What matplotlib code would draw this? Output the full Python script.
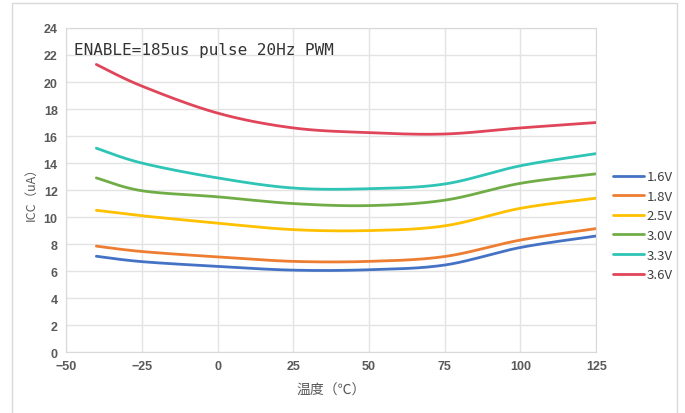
import numpy as np
import matplotlib.pyplot as plt
from matplotlib.patches import Rectangle

plt.rcParams['font.family'] = ['Noto Sans CJK SC', 'DejaVu Sans']

temps = [-40, -25, 0, 25, 50, 75, 100, 125]
icc_1v6 = [7.1, 6.7, 6.35, 6.07, 6.1, 6.45, 7.75, 8.6]
icc_1v8 = [7.85, 7.45, 7.05, 6.72, 6.72, 7.08, 8.3, 9.15]
icc_2v5 = [10.5, 10.1, 9.55, 9.07, 9.0, 9.35, 10.65, 11.4]
icc_3v0 = [12.9, 11.95, 11.5, 11.0, 10.85, 11.25, 12.5, 13.2]
icc_3v3 = [15.1, 14.0, 12.9, 12.15, 12.1, 12.45, 13.8, 14.7]
icc_3v6 = [21.3, 19.7, 17.7, 16.6, 16.25, 16.15, 16.6, 17.0]

series = [("1.6V", icc_1v6, "#4472C4"),
          ("1.8V", icc_1v8, "#ED7D31"),
          ("2.5V", icc_2v5, "#FFC000"),
          ("3.0V", icc_3v0, "#70AD47"),
          ("3.3V", icc_3v3, "#2EC4B6"),
          ("3.6V", icc_3v6, "#E0455A")]


def smooth(x, y, n=40):
    # Catmull-Rom style bezier through each point, like spreadsheet "smoothed line"
    x = np.asarray(x, float)
    y = np.asarray(y, float)
    px = np.concatenate([[x[0]], x, [x[-1]]])
    py = np.concatenate([[y[0]], y, [y[-1]]])
    xs, ys = [], []
    t = np.linspace(0, 1, n)
    for i in range(1, len(px) - 2):
        p0 = np.array([px[i], py[i]])
        p3 = np.array([px[i + 1], py[i + 1]])
        p1 = p0 + (np.array([px[i + 1], py[i + 1]]) - np.array([px[i - 1], py[i - 1]])) / 6
        p2 = p3 - (np.array([px[i + 2], py[i + 2]]) - np.array([px[i], py[i]])) / 6
        b = ((1 - t) ** 3)[:, None] * p0 + (3 * (1 - t) ** 2 * t)[:, None] * p1 \
            + (3 * (1 - t) * t ** 2)[:, None] * p2 + (t ** 3)[:, None] * p3
        xs.extend(b[:, 0])
        ys.extend(b[:, 1])
    return xs, ys


fig = plt.figure(figsize=(6.85, 4.14), dpi=100)
ax = fig.add_axes([0.0964, 0.147, 0.774, 0.783])

for label, vals, color in series:
    sx, sy = smooth(temps, vals)
    ax.plot(sx, sy, color=color, lw=2, label=label, solid_capstyle='round')

ax.set_xlim(-50, 125)
ax.set_ylim(0, 24)
ax.set_xticks([-50, -25, 0, 25, 50, 75, 100, 125])
ax.set_yticks(range(0, 25, 2))
ax.grid(True, color='#E3E3E3', lw=1)
ax.set_axisbelow(True)
for s in ax.spines.values():
    s.set_color('#D9D9D9')
ax.tick_params(length=0, labelsize=9, colors='#505050', pad=6)
for lbl in ax.get_xticklabels() + ax.get_yticklabels():
    lbl.set_family('Liberation Sans')
    lbl.set_fontweight('bold')
    lbl.set_color('#595959')

ax.text(-47.5, 22.4, "ENABLE=185us pulse 20Hz PWM", family='DejaVu Sans Mono',
        fontsize=11.5, color='#333333', va='center')

ax.set_xlabel("温度（℃）", fontsize=10, color='#595959', labelpad=7)
ax.set_ylabel("ICC（uA）", fontsize=9, color='#595959', labelpad=4)

leg = ax.legend(loc='center left', bbox_to_anchor=(1.01, 0.39), frameon=False,
                fontsize=9.5, handlelength=2.3, handletextpad=0.2,
                labelspacing=0.5)
for t in leg.get_texts():
    t.set_color('#404040')

fig.patches.append(Rectangle((12 / 685, -0.1), 665 / 685, 1.1 - 4 / 414,
                             transform=fig.transFigure, fill=False,
                             edgecolor='#D9D9D9', lw=1))

fig.savefig("out.png", dpi=100)
